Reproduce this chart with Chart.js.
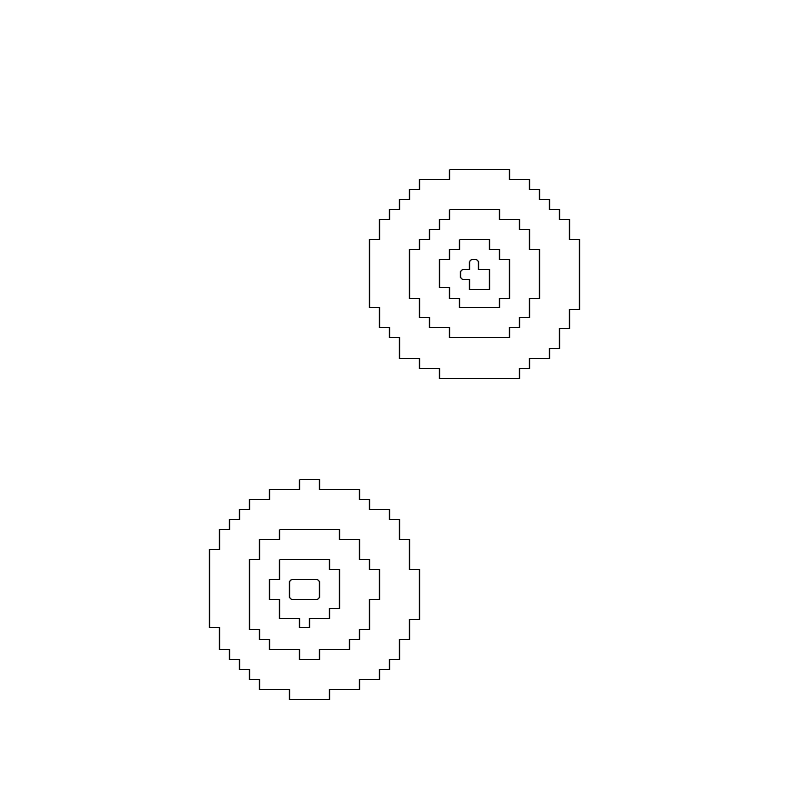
<!DOCTYPE html>
<html>
<head>
<meta charset="utf-8">
<script src="https://cdn.jsdelivr.net/npm/chart.js@4.4.0/dist/chart.umd.min.js"></script>
<style>
  html, body { margin: 0; padding: 0; background: #ffffff; }
  #wrap { width: 800px; height: 800px; }
</style>
</head>
<body>
<div id="wrap"><canvas id="c" width="800" height="800"></canvas></div>
<script>
// Contour paths, as [x, y] vertices in plot units (y grows downward).
const upperOuter = [[450,170],[510,170],[510,180],[530,180],[530,190],[540,190],[540,200],[550,200],[550,210],[560,210],[560,220],[570,220],[570,240],[580,240],[580,310],[570,310],[570,329],[560,329],[560,349],[550,349],[550,359],[530,359],[530,369],[520,369],[520,379],[440,379],[440,369],[420,369],[420,359],[400,359],[400,338],[390,338],[390,328],[380,328],[380,308],[370,308],[370,240],[380,240],[380,220],[390,220],[390,210],[400,210],[400,200],[410,200],[410,190],[420,190],[420,180],[450,180],[450,170]];
const upperSecond = [[450,210],[500,210],[500,220],[520,220],[520,230],[530,230],[530,250],[540,250],[540,299],[530,299],[530,318],[520,318],[520,328],[510,328],[510,338],[450,338],[450,328],[430,328],[430,318],[420,318],[420,299],[410,299],[410,250],[420,250],[420,240],[430,240],[430,230],[440,230],[440,220],[450,220],[450,210]];
const upperThird = [[460,240],[490,240],[490,250],[500,250],[500,260],[510,260],[510,299],[500,299],[500,308],[460,308],[460,299],[450,299],[450,288],[440,288],[440,260],[450,260],[450,250],[460,250],[460,240]];
const upperInner = [[470,262],[472,260],[477,260],[479,262],[479,270],[490,270],[490,290],[470,290],[470,280],[463,280],[461,278],[461,272],[463,270],[470,270],[470,262]];
const lowerOuter = [[300,480],[320,480],[320,490],[360,490],[360,500],[370,500],[370,510],[390,510],[390,520],[400,520],[400,540],[410,540],[410,570],[420,570],[420,620],[410,620],[410,640],[400,640],[400,660],[390,660],[390,670],[380,670],[380,680],[360,680],[360,690],[330,690],[330,700],[290,700],[290,690],[260,690],[260,680],[250,680],[250,670],[240,670],[240,660],[230,660],[230,650],[220,650],[220,628],[210,628],[210,550],[220,550],[220,530],[230,530],[230,520],[240,520],[240,510],[250,510],[250,500],[270,500],[270,490],[300,490],[300,480]];
const lowerSecond = [[280,530],[340,530],[340,540],[360,540],[360,560],[370,560],[370,570],[380,570],[380,600],[370,600],[370,630],[360,630],[360,640],[350,640],[350,650],[320,650],[320,660],[300,660],[300,650],[270,650],[270,640],[260,640],[260,630],[250,630],[250,560],[260,560],[260,540],[280,540],[280,530]];
const lowerThird = [[280,560],[330,560],[330,570],[340,570],[340,609],[330,609],[330,619],[310,619],[310,628],[300,628],[300,619],[280,619],[280,600],[270,600],[270,580],[280,580],[280,560]];
const lowerInner = [[292,580],[318,580],[320,582],[320,598],[318,600],[292,600],[290,598],[290,582],[292,580]];

const contours = [upperOuter, upperSecond, upperThird, upperInner, lowerOuter, lowerSecond, lowerThird, lowerInner];

const datasets = contours.map(path => ({
  data: path.map(p => ({ x: p[0], y: p[1] })),
  showLine: true,
  borderColor: '#000000',
  borderWidth: 1.2,
  pointRadius: 0,
  pointHoverRadius: 0,
  fill: false,
  tension: 0
}));

new Chart(document.getElementById('c'), {
  type: 'scatter',
  data: { datasets },
  options: {
    responsive: false,
    animation: false,
    events: [],
    layout: { padding: 0 },
    plugins: { legend: { display: false }, tooltip: { enabled: false } },
    scales: {
      x: { type: 'linear', min: 0.5, max: 800.5, display: false },
      y: { type: 'linear', min: 0.5, max: 800.5, reverse: true, display: false }
    }
  }
});
</script>
</body>
</html>
